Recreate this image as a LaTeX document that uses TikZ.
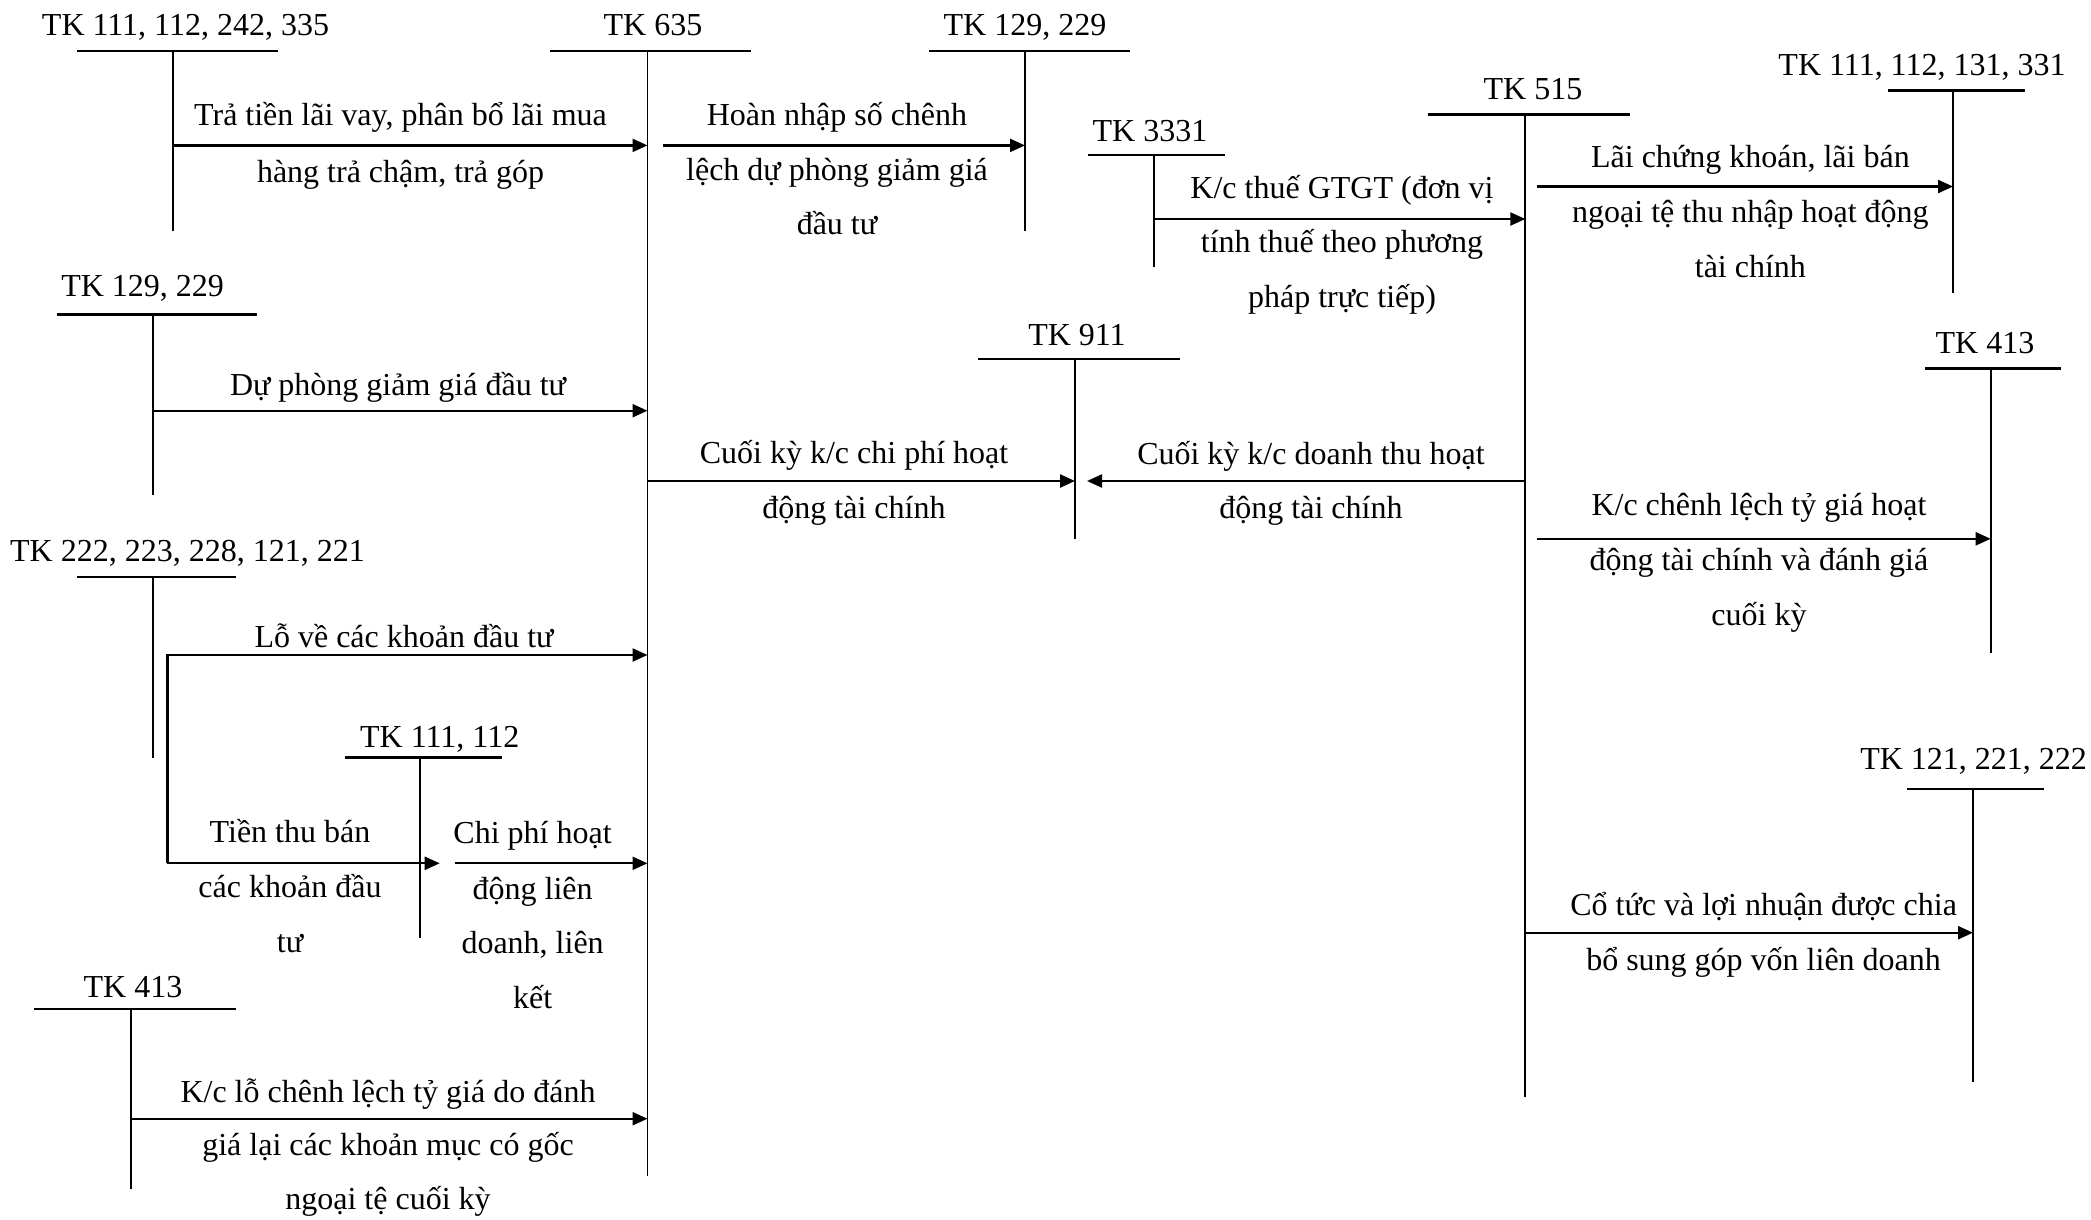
\documentclass[tikz,border=0pt]{standalone}
\usepackage{fontspec}
\setmainfont{Liberation Serif}
\usetikzlibrary{arrows.meta}
\newcommand\acct[9]{%
  \node[ttl] (#1) at (#3,#4) {#2};
  \draw[bar] (#5,#7) -- (#6,#7);
  \coordinate (#1-top) at (#8,#7);
  \coordinate (#1-bot) at (#8,#9);
  \draw[stem] (#1-top) -- (#1-bot);}
\begin{document}
\begin{tikzpicture}[x=1pt,y=-1pt,
  every node/.style={inner sep=0pt,outer sep=0pt,font=\fontsize{32}{38}\selectfont},
  ttl/.style={anchor=base},
  lbl/.style={anchor=base},
  bar/.style={line width=2.5pt},
  stem/.style={line width=1.9pt},
  flow/.style={line width=2.3pt,line join=miter,-{Triangle[length=15pt,width=13pt]}}]
\useasboundingbox[fill=white] (0,0) rectangle (2091,1219);

% accounts: name, text, cx, baseline, bar x1, bar x2, bar y, stem x, stem bottom
\acct{A1}{TK 111, 112, 242, 335}{185.5}{35.7}{77}{278}{51}{173.4}{231}
\acct{A2}{TK 635}{653}{35.7}{550}{751}{51}{647.5}{1176}
\acct{A3}{TK 129, 229}{1025}{35.7}{929}{1130}{51}{1025}{231}
\acct{A4}{TK 3331}{1150}{141}{1088}{1225}{155}{1154}{267}
\acct{A5}{TK 515}{1533}{99}{1428}{1630}{114.5}{1525.3}{1096.7}
\acct{A6}{TK 111, 112, 131, 331}{1922}{75.8}{1888}{2025}{90.5}{1953}{292.5}
\acct{A7}{TK 129, 229}{142.6}{296.4}{57}{256.5}{314.3}{152.7}{494.6}
\acct{A8}{TK 911}{1077}{345}{978}{1180}{359}{1075}{539}
\acct{A9}{TK 413}{1985}{353.6}{1925}{2061}{368.7}{1990.7}{653}
\acct{A10}{TK 222, 223, 228, 121, 221}{187.5}{561}{77}{236}{577}{153}{757.6}
\acct{A11}{TK 111, 112}{439.7}{747}{345}{502}{757.6}{419.6}{938}
\acct{A12}{TK 413}{133}{997}{34}{236}{1009}{130.8}{1188.7}
\acct{A13}{TK 121, 221, 222}{1973.6}{769.3}{1907}{2043.5}{789}{1973}{1081.7}

% a
\draw[flow] (A1-top |- 0,145.4) -- (A2-top |- 0,145.4);
\node[lbl] (La1) at (400.5,125) {Trả tiền lãi vay, phân bổ lãi mua};
\node[lbl] (La2) at (400.5,182) {hàng trả chậm, trả góp};
% b
\coordinate (Bs) at (663,145.4);
\draw[flow] (Bs) -- (A3-top |- Bs);
\node[lbl] (Lb1) at (837,125.7) {Hoàn nhập số chênh};
\node[lbl] (Lb2) at (837,180) {lệch dự phòng giảm giá};
\node[lbl] (Lb3) at (837,234) {đầu tư};
% c
\draw[flow] (A4-top |- 0,219) -- (A5-top |- 0,219);
\node[lbl] (Lc1) at (1342,198) {K/c thuế GTGT (đơn vị};
\node[lbl] (Lc2) at (1342,252.5) {tính thuế theo phương};
\node[lbl] (Lc3) at (1342,307) {pháp trực tiếp)};
% d
\coordinate (Ds) at (1536.6,186.5);
\draw[flow] (Ds) -- (A6-top |- Ds);
\node[lbl] (Ld1) at (1750.4,167.5) {Lãi chứng khoán, lãi bán};
\node[lbl] (Ld2) at (1750.4,222) {ngoại tệ thu nhập hoạt động};
\node[lbl] (Ld3) at (1750.4,277.8) {tài chính};
% e
\draw[flow] (A7-top |- 0,410.7) -- (A2-top |- 0,410.7);
\node[lbl] (Le1) at (398,395) {Dự phòng giảm giá đầu tư};
% f
\draw[flow] (A2-top |- 0,481) -- (A8-top |- 0,481);
\node[lbl] (Lf1) at (854,463) {Cuối kỳ k/c chi phí hoạt};
\node[lbl] (Lf2) at (854,518) {động tài chính};
% g
\coordinate (Ge) at (1087,481);
\draw[flow] (A5-top |- Ge) -- (Ge);
\node[lbl] (Lg1) at (1311,464) {Cuối kỳ k/c doanh thu hoạt};
\node[lbl] (Lg2) at (1311,518) {động tài chính};
% h
\coordinate (Hs) at (1536.6,538.8);
\draw[flow] (Hs) -- (A9-top |- Hs);
\node[lbl] (Lh1) at (1759,515.6) {K/c chênh lệch tỷ giá hoạt};
\node[lbl] (Lh2) at (1759,570) {động tài chính và đánh giá};
\node[lbl] (Lh3) at (1759,625) {cuối kỳ};
% i (elbow from TK 222...)
\coordinate (Etop) at (167.4,655);
\coordinate (Ebot) at (167.4,863.3);
\coordinate (Eend) at (439.7,863.3);
\draw[flow] (Ebot) -- (Etop) -- (A2-top |- Etop);
\draw[flow] (Ebot) -- (Eend);
\node[lbl] (Li1) at (404,647) {Lỗ về các khoản đầu tư};
\node[lbl] (Lt1) at (290,842) {Tiền thu bán};
\node[lbl] (Lt2) at (290,897) {các khoản đầu};
\node[lbl] (Lt3) at (290,952.5) {tư};
% l
\coordinate (Ls) at (454.5,863.3);
\draw[flow] (Ls) -- (A2-top |- Ls);
\node[lbl] (Ll1) at (532.6,843) {Chi phí hoạt};
\node[lbl] (Ll2) at (532.6,899) {động liên};
\node[lbl] (Ll3) at (532.6,953.5) {doanh, liên};
\node[lbl] (Ll4) at (532.6,1008) {kết};
% j
\draw[flow] (A12-top |- 0,1118.7) -- (A2-top |- 0,1118.7);
\node[lbl] (Lj1) at (388,1102) {K/c lỗ chênh lệch tỷ giá do đánh};
\node[lbl] (Lj2) at (388,1155) {giá lại các khoản mục có gốc};
\node[lbl] (Lj3) at (388,1209) {ngoại tệ cuối kỳ};
% k
\draw[flow] (A5-top |- 0,932.7) -- (A13-top |- 0,932.7);
\node[lbl] (Lk1) at (1763.6,915) {Cổ tức và lợi nhuận được chia};
\node[lbl] (Lk2) at (1763.6,970.7) {bổ sung góp vốn liên doanh};
\end{tikzpicture}
\end{document}
